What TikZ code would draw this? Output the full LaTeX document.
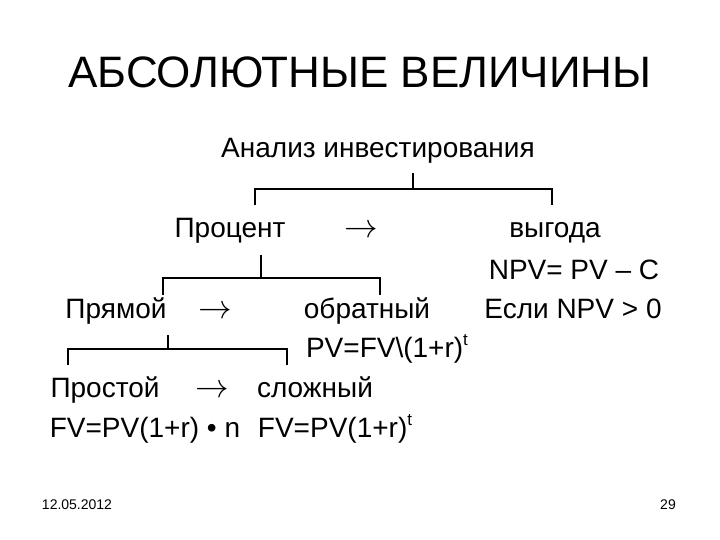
\documentclass[tikz,border=0pt]{standalone}
\usepackage{graphicx}
\usepackage{fontspec}
\setmainfont{Liberation Sans}
\newcommand{\supt}{\raisebox{12pt}{\fontsize{17}{17}\selectfont t}}
\newcommand{\bigarrow}{\scalebox{1.35}{$\rightarrow$}}
\begin{document}
\begin{tikzpicture}[x=1pt,y=-1pt,
  lbl/.style={anchor=base,inner sep=0pt,font=\fontsize{28}{32}\selectfont},
  ttl/.style={anchor=base,inner sep=0pt,font=\fontsize{44}{50}\selectfont},
  foot/.style={anchor=base,inner sep=0pt,font=\fontsize{14}{16}\selectfont},
  arr/.style={anchor=base,inner sep=0pt,font=\fontsize{24.88}{28}\selectfont},
  br/.style={line width=1.2pt}]
\useasboundingbox (0,0) rectangle (720,540);
\node[ttl] (title) at (360,88) {АБСОЛЮТНЫЕ ВЕЛИЧИНЫ};
\node[lbl] (root) at (378,158) {Анализ инвестирования};
\node[lbl] (proc) at (230,237) {Процент};
\node[arr] (a1) at (361,237) {\bigarrow};
\node[lbl] (vyg) at (555,237) {выгода};
\node[lbl] (npv) at (574,279) {NPV= PV – C};
\node[lbl] (pr) at (116,318) {Прямой};
\node[arr] (a2) at (215,318) {\bigarrow};
\node[lbl] (obr) at (367,318) {обратный};
\node[lbl] (esli) at (573,318) {Если NPV > 0};
\node[lbl] (pvf) at (387,357) {PV=FV\textbackslash(1+r)\supt};
\node[lbl] (prost) at (105,397) {Простой};
\node[arr] (a3) at (212,397) {\bigarrow};
\node[lbl] (slo) at (315,397) {сложный};
\node[lbl] (f1) at (145,437) {FV=PV(1+r) • n};
\node[lbl] (f2) at (335,437) {FV=PV(1+r)\supt};
\node[foot] (date) at (77,509) {12.05.2012};
\node[foot] (page) at (668,509) {29};
% brackets
\coordinate (t1) at (413,173);
\coordinate (h1) at (413,189);
\coordinate (l1) at (255,189);
\coordinate (r1) at (552,189);
\draw[br] (t1) -- (h1);
\draw[br] (l1 |- 0,205) -- (l1) -- (r1) -- (r1 |- 0,205);
\coordinate (t2) at (261,255);
\coordinate (h2) at (261,278);
\coordinate (l2) at (163,278);
\coordinate (r2) at (380,278);
\draw[br] (t2) -- (h2);
\draw[br] (l2 |- 0,295) -- (l2) -- (r2) -- (r2 |- 0,295);
\coordinate (t3) at (168,335);
\coordinate (h3) at (168,349);
\coordinate (l3) at (68,349);
\coordinate (r3) at (287,349);
\draw[br] (t3) -- (h3);
\draw[br] (l3 |- 0,365) -- (l3) -- (r3) -- (r3 |- 0,365);
\end{tikzpicture}
\end{document}
